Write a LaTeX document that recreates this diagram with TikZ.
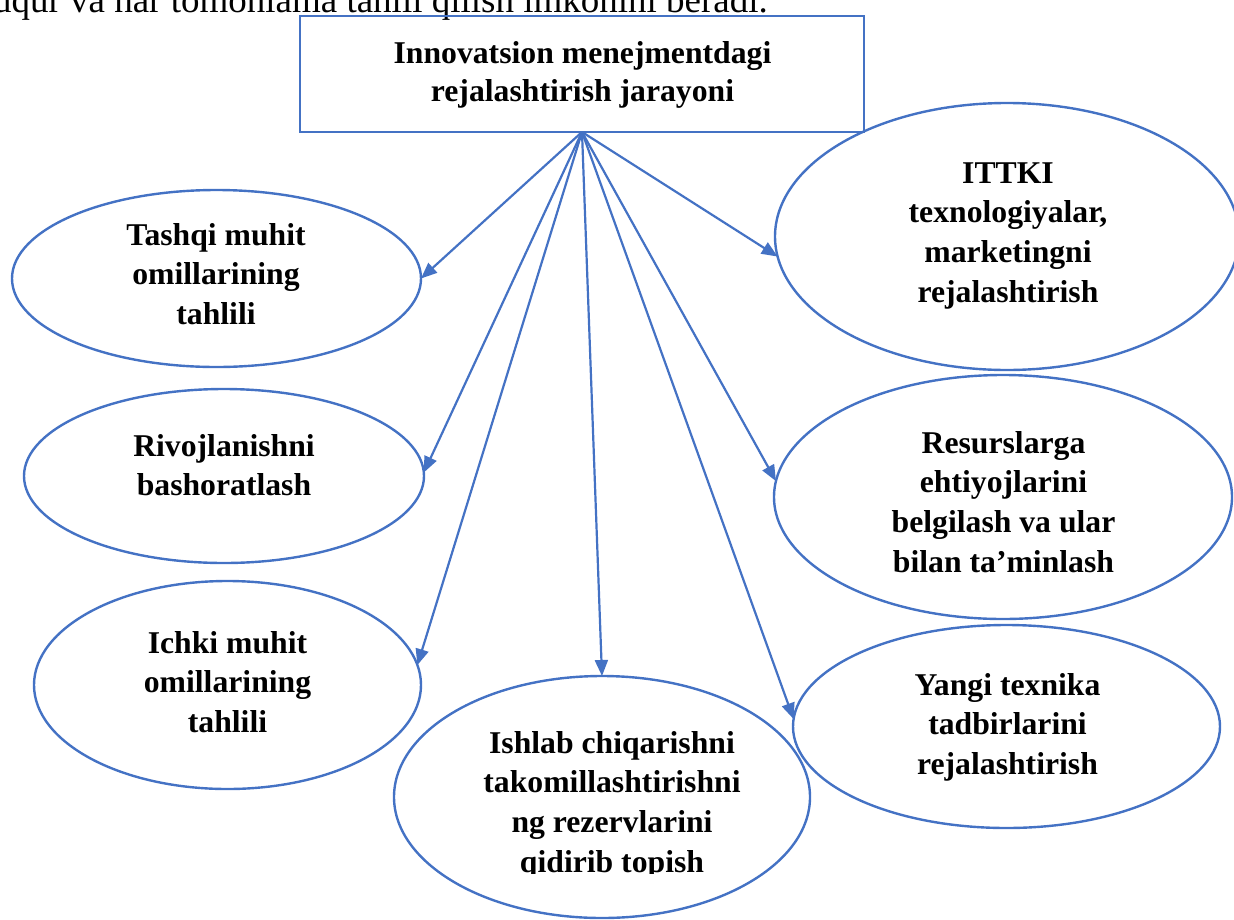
\documentclass[tikz,border=0pt]{standalone}
\usepackage{fontspec}
\setmainfont{Liberation Serif}
\usetikzlibrary{shapes.geometric,arrows.meta}
\definecolor{ob}{HTML}{4472C4}
\newcommand{\stk}[1]{\begin{tabular}[t]{@{}c@{}}#1\end{tabular}}
\begin{document}
\begin{tikzpicture}[x=1pt,y=-1pt,
  ell/.style={draw=ob, line width=2.4pt, ellipse, inner sep=0pt, outer sep=0pt},
  lbl/.style={inner sep=0pt, anchor=base, font=\fontsize{31.7}{39.7}\selectfont\bfseries},
  con/.style={draw=ob, line width=2.2pt, -{Triangle[length=16pt,width=13pt]}}]
\useasboundingbox (0,0) rectangle (1234,919);
\clip (0,0) rectangle (1234,919);
% cut-off line of body text above the diagram
\node[inner sep=0pt, anchor=base east, font=\fontsize{37}{44}\selectfont] (body) at (768,12.5)
  {chuqur va har tomonlama tahlil qilish imkonini beradi.};
% top box
\node[draw=ob, line width=2.6pt, minimum width=564pt, minimum height=116pt, inner sep=0pt, outer sep=0pt] (top) at (582,74) {};
\node[lbl, font=\fontsize{31.7}{38.7}\selectfont\bfseries] (tt) at (582.5,63) {\stk{Innovatsion menejmentdagi\\rejalashtirish jarayoni}};
% ellipses
\node[ell, minimum width=409pt, minimum height=177pt] (e1) at (216.5,278.5) {};
\node[ell, minimum width=400pt, minimum height=174pt] (e2) at (224,476) {};
\node[ell, minimum width=387pt, minimum height=208pt] (e3) at (227.5,685) {};
\node[ell, minimum width=416pt, minimum height=242pt] (e4) at (602,797) {};
\node[ell, minimum width=464pt, minimum height=267pt] (e5) at (1007,236.5) {};
\node[ell, minimum width=458pt, minimum height=244pt] (e6) at (1003,497) {};
\node[ell, minimum width=427pt, minimum height=203pt] (e7) at (1006.5,726.5) {};
% labels
\node[lbl] (t1) at (216,245) {\stk{Tashqi muhit\\omillarining\\tahlili}};
\node[lbl] (t2) at (224,456) {\stk{Rivojlanishni\\bashoratlash}};
\node[lbl] (t3) at (227.5,653) {\stk{Ichki muhit\\omillarining\\tahlili}};
\begin{scope}
\clip (0,0) rectangle (1234,873);
\node[lbl] (t4) at (612,753) {\stk{Ishlab chiqarishni\\takomillashtirishni\\ng rezervlarini\\qidirib topish}};
\end{scope}
\node[lbl] (t5) at (1008,183) {\stk{ITTKI\\texnologiyalar,\\marketingni\\rejalashtirish}};
\node[lbl] (t6) at (1003.5,453) {\stk{Resurslarga\\ehtiyojlarini\\belgilash va ular\\bilan ta’minlash}};
\node[lbl] (t7) at (1007.5,695) {\stk{Yangi texnika\\tadbirlarini\\rejalashtirish}};
% connectors
\draw[con] (top.south) -- (e1.east);
\draw[con] (top.south) -- (e2.1);
\draw[con] (top.south) -- (e3.6);
\draw[con] (top.south) -- (e4.north);
\draw[con] (top.south) -- (e5.185);
\draw[con] (top.south) -- (e6.176);
\draw[con] (top.south) -- (e7.178);
\end{tikzpicture}
\end{document}
